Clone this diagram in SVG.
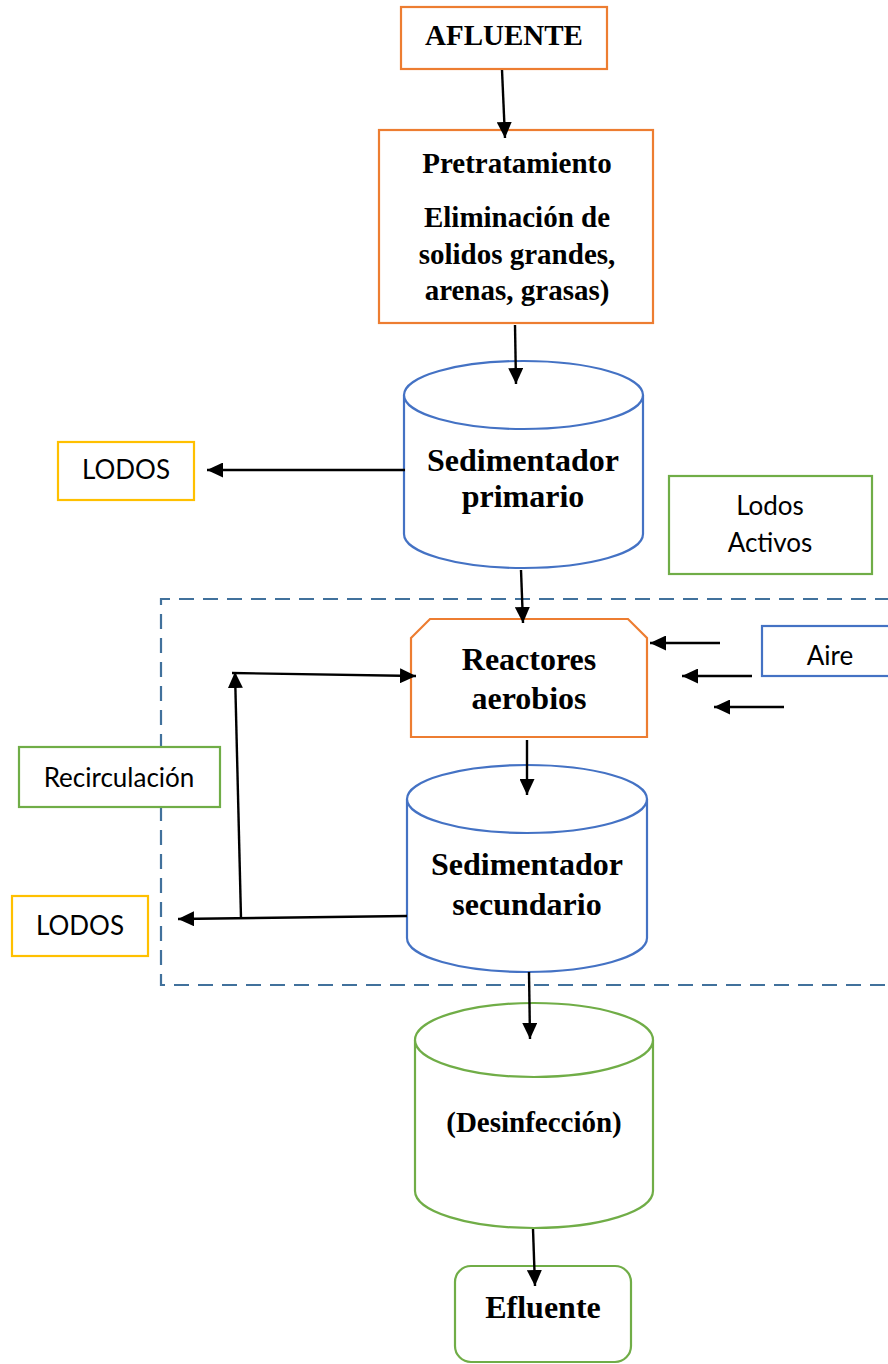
<svg xmlns="http://www.w3.org/2000/svg" width="888" height="1364" viewBox="0 0 888 1364">
<style>
.bg{fill:#ffffff}
.orange{fill:#ffffff;stroke:#ED7D31;stroke-width:2.2}
.blue{fill:#ffffff;stroke:#4472C4;stroke-width:2.2}
.green{fill:#ffffff;stroke:#70AD47;stroke-width:2.2}
.yellow{fill:#ffffff;stroke:#FFC000;stroke-width:2.2}
.dash{fill:none;stroke:#41719C;stroke-width:2.2;stroke-dasharray:15 9}
.serif{font-family:"Liberation Serif","Times New Roman",serif;font-weight:bold;fill:#000;text-anchor:middle}
.sans{font-family:Lato,"Liberation Sans",sans-serif;font-size:26px;fill:#000;text-anchor:middle}
.conn{fill:none;stroke:#000;stroke-width:2.4}
</style>
<defs>
<marker id="arrow" markerUnits="userSpaceOnUse" markerWidth="17" markerHeight="15" refX="16" refY="7.5" orient="auto">
<path d="M0,0 L16,7.5 L0,15 z" fill="#000"/>
</marker>
</defs>
<rect class="bg" x="0" y="0" width="888" height="1364"/>

<g id="boundary">
<path class="dash" d="M890,599 L161,599 L161,985 L890,985"/>
</g>

<g id="afluente">
<rect class="orange" x="401" y="7" width="206" height="62"/>
<text class="serif" x="504" y="45" font-size="29">AFLUENTE</text>
</g>

<g id="pretratamiento">
<rect class="orange" x="379" y="130" width="274" height="193"/>
<text class="serif" x="517" y="173" font-size="29">Pretratamiento</text>
<text class="serif" x="517" y="227" font-size="29">Eliminación de</text>
<text class="serif" x="517" y="264" font-size="29">solidos grandes,</text>
<text class="serif" x="517" y="300" font-size="29">arenas, grasas)</text>
</g>

<g id="sedimentador-primario">
<path class="blue" d="M404,395 L404,534 A119.5,34 0 0 0 643,534 L643,395"/>
<ellipse class="blue" cx="523.5" cy="395" rx="119.5" ry="34"/>
<text class="serif" x="523" y="471" font-size="32">Sedimentador</text>
<text class="serif" x="523" y="507" font-size="32">primario</text>
</g>

<g id="lodos-1">
<rect class="yellow" x="58" y="442" width="136" height="58"/>
<text class="sans" x="126" y="479">LODOS</text>
</g>

<g id="lodos-activos">
<rect class="green" x="669" y="476" width="203" height="98"/>
<text class="sans" x="770" y="515">Lodos</text>
<text class="sans" x="770" y="552">Activos</text>
</g>

<g id="reactores">
<path class="orange" d="M411,638 L430,619 L628,619 L647,638 L647,737 L411,737 Z"/>
<text class="serif" x="529" y="670" font-size="32">Reactores</text>
<text class="serif" x="529" y="709" font-size="32">aerobios</text>
</g>

<g id="aire">
<rect class="blue" x="762" y="626" width="140" height="50"/>
<text class="sans" x="830" y="665">Aire</text>
</g>

<g id="recirculacion">
<rect class="green" x="19" y="747" width="201" height="60"/>
<text class="sans" x="119" y="787" font-size="27">Recirculación</text>
</g>

<g id="sedimentador-secundario">
<path class="blue" d="M407,799 L407,938 A120,34 0 0 0 647,938 L647,799"/>
<ellipse class="blue" cx="527" cy="799" rx="120" ry="34"/>
<text class="serif" x="527" y="875" font-size="32">Sedimentador</text>
<text class="serif" x="527" y="915" font-size="32">secundario</text>
</g>

<g id="lodos-2">
<rect class="yellow" x="12" y="896" width="136" height="60"/>
<text class="sans" x="80" y="935">LODOS</text>
</g>

<g id="desinfeccion">
<path class="green" d="M415,1040 L415,1191 A119,37 0 0 0 653,1191 L653,1040"/>
<ellipse class="green" cx="534" cy="1040" rx="119" ry="37"/>
<text class="serif" x="534" y="1132" font-size="29">(Desinfección)</text>
</g>

<g id="efluente">
<rect class="green" x="455" y="1266" width="176" height="96" rx="16" ry="16"/>
<text class="serif" x="543" y="1318" font-size="32">Efluente</text>
</g>

<g id="connectors">
<line class="conn" x1="502" y1="70" x2="505" y2="138" marker-end="url(#arrow)"/>
<line class="conn" x1="515" y1="325" x2="516" y2="384" marker-end="url(#arrow)"/>
<line class="conn" x1="405" y1="470" x2="207" y2="470" marker-end="url(#arrow)"/>
<line class="conn" x1="521" y1="570" x2="523" y2="623" marker-end="url(#arrow)"/>
<line class="conn" x1="720" y1="643" x2="650" y2="643" marker-end="url(#arrow)"/>
<line class="conn" x1="752" y1="676" x2="682" y2="676" marker-end="url(#arrow)"/>
<line class="conn" x1="784" y1="707" x2="714" y2="707" marker-end="url(#arrow)"/>
<line class="conn" x1="232" y1="673" x2="416" y2="676" marker-end="url(#arrow)"/>
<line class="conn" x1="527" y1="740" x2="527" y2="795" marker-end="url(#arrow)"/>
<line class="conn" x1="407" y1="916" x2="178" y2="919" marker-end="url(#arrow)"/>
<line class="conn" x1="241" y1="918" x2="235" y2="672" marker-end="url(#arrow)"/>
<line class="conn" x1="529" y1="972" x2="530" y2="1039" marker-end="url(#arrow)"/>
<line class="conn" x1="533" y1="1229" x2="535" y2="1286" marker-end="url(#arrow)"/>
</g>
</svg>
